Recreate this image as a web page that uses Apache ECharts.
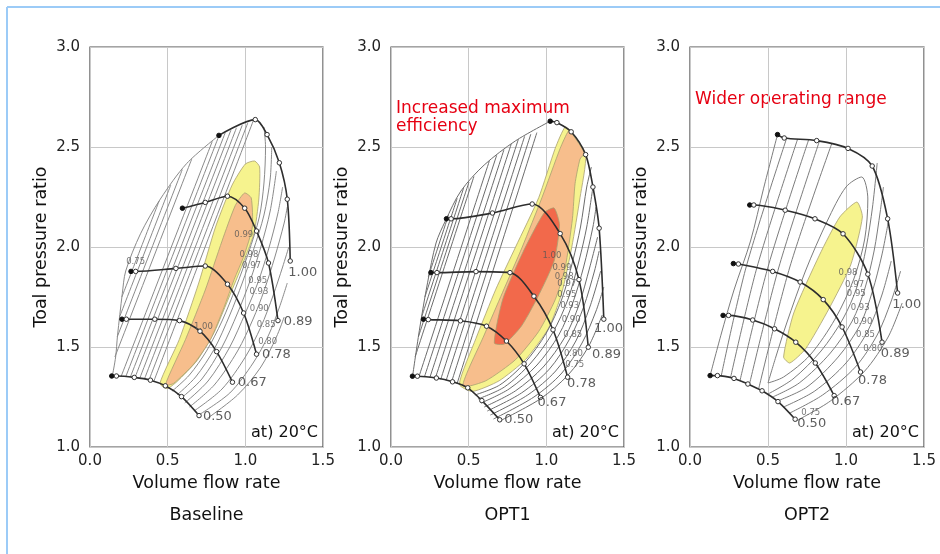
<!DOCTYPE html>
<html>
<head>
<meta charset="utf-8">
<title>Compressor maps</title>
<script src="https://cdn.jsdelivr.net/npm/echarts@6/dist/echarts.min.js"></script>
<style>
  html, body { margin: 0; padding: 0; background: #fff; }
  #chart { width: 940px; height: 554px; }
</style>
</head>
<body>
<div id="chart"></div>
<script>
// x: volume flow rate, y: total pressure ratio
const panelNames = ['Baseline', 'OPT1', 'OPT2']
const speedNames = ['0.50', '0.67', '0.78', '0.89', '1.00']

// speed lines, first point = surge point
const baseSpeed = [
  [[0.14, 1.355], [0.17, 1.355], [0.285, 1.348], [0.389, 1.334], [0.485, 1.306], [0.589, 1.252], [0.702, 1.157]],
  [[0.206, 1.639], [0.234, 1.639], [0.417, 1.639], [0.576, 1.632], [0.708, 1.579], [0.815, 1.477], [0.917, 1.324]],
  [[0.264, 1.878], [0.294, 1.878], [0.553, 1.893], [0.742, 1.905], [0.885, 1.814], [0.989, 1.67], [1.072, 1.464]],
  [[0.595, 2.194], [0.742, 2.223], [0.885, 2.254], [0.996, 2.194], [1.072, 2.08], [1.149, 1.92], [1.21, 1.632]],
  [[0.83, 2.558], [1.064, 2.637], [1.14, 2.562], [1.219, 2.421], [1.27, 2.239], [1.289, 1.93]]
]
const opt1Speed = [
  [[0.138, 1.354], [0.17, 1.354], [0.292, 1.345], [0.396, 1.326], [0.494, 1.296], [0.585, 1.232], [0.70, 1.136]],
  [[0.209, 1.639], [0.24, 1.637], [0.447, 1.631], [0.615, 1.604], [0.743, 1.53], [0.857, 1.416], [0.962, 1.248]],
  [[0.257, 1.872], [0.296, 1.872], [0.547, 1.877], [0.766, 1.872], [0.92, 1.754], [1.043, 1.586], [1.137, 1.349]],
  [[0.357, 2.141], [0.387, 2.141], [0.653, 2.17], [0.909, 2.215], [1.089, 2.067], [1.21, 1.837], [1.27, 1.499]],
  [[1.025, 2.629], [1.068, 2.622], [1.16, 2.576], [1.253, 2.462], [1.3, 2.3], [1.34, 2.094], [1.37, 1.639]]
]
const opt2Speed = [
  [[0.129, 1.357], [0.176, 1.357], [0.282, 1.343], [0.371, 1.315], [0.462, 1.281], [0.564, 1.227], [0.674, 1.139]],
  [[0.212, 1.658], [0.247, 1.658], [0.402, 1.635], [0.542, 1.591], [0.678, 1.524], [0.803, 1.42], [0.924, 1.257]],
  [[0.278, 1.917], [0.31, 1.915], [0.53, 1.878], [0.706, 1.825], [0.854, 1.737], [0.975, 1.6], [1.093, 1.375]],
  [[0.383, 2.21], [0.409, 2.21], [0.61, 2.184], [0.801, 2.141], [0.981, 2.066], [1.14, 1.864], [1.231, 1.524]],
  [[0.561, 2.562], [0.604, 2.545], [0.812, 2.532], [1.013, 2.493], [1.168, 2.405], [1.267, 2.141], [1.331, 1.77]]
]

// where the speed names sit
const baseSpeedLabelAt = [[0.82, 1.15], [1.045, 1.32], [1.2, 1.46], [1.34, 1.628], [1.37, 1.87]]
const opt1SpeedLabelAt = [[0.823, 1.136], [1.036, 1.222], [1.227, 1.319], [1.387, 1.463], [1.40, 1.59]]
const opt2SpeedLabelAt = [[0.78, 1.116], [0.998, 1.227], [1.17, 1.33], [1.316, 1.468], [1.39, 1.714]]

// high efficiency islands (outer -> inner)
const baseIslands = [
  [[0.45, 1.318], [0.575, 1.538], [0.7, 1.82], [0.808, 2.1], [0.915, 2.31], [1.0, 2.415], [1.06, 2.43], [1.092, 2.4],
   [1.087, 2.24], [1.055, 2.066], [0.97, 1.89], [0.885, 1.73], [0.8, 1.574], [0.69, 1.433], [0.56, 1.327], [0.496, 1.292]],
  [[0.485, 1.31], [0.615, 1.538], [0.742, 1.785], [0.85, 2.03], [0.935, 2.207], [0.995, 2.27], [1.038, 2.245], [1.045, 2.1],
   [0.993, 1.96], [0.928, 1.837], [0.862, 1.697], [0.776, 1.538], [0.668, 1.415], [0.538, 1.318]]
]
const opt1Islands = [
  [[0.44, 1.314], [0.547, 1.543], [0.675, 1.789], [0.802, 2.0], [0.951, 2.247], [1.057, 2.493], [1.121, 2.6], [1.16, 2.576],
   [1.253, 2.462], [1.217, 2.247], [1.164, 2.0], [1.1, 1.771], [1.015, 1.595], [0.866, 1.437], [0.696, 1.331], [0.525, 1.278]],
  [[0.462, 1.305], [0.6, 1.56], [0.717, 1.771], [0.845, 2.0], [0.972, 2.247], [1.089, 2.493], [1.142, 2.58], [1.16, 2.572],
   [1.245, 2.47], [1.217, 2.44], [1.185, 2.317], [1.168, 2.141], [1.121, 1.895], [1.057, 1.736], [0.951, 1.578], [0.802, 1.437], [0.61, 1.331]],
  [[0.665, 1.52], [0.72, 1.74], [0.85, 1.975], [0.985, 2.17], [1.05, 2.195], [1.085, 2.11], [1.05, 1.93],
   [0.945, 1.75], [0.84, 1.605], [0.73, 1.515]]
]
const opt2Islands = [
  [[0.6, 1.45], [0.665, 1.67], [0.83, 1.96], [0.96, 2.15], [1.07, 2.225], [1.105, 2.15], [1.03, 1.91],
   [0.89, 1.69], [0.74, 1.49], [0.64, 1.42]]
]

// efficiency contour lines
const baseContours = [
  [[0.145, 1.36], [0.165, 1.45], [0.177, 1.556], [0.208, 1.767], [0.23, 1.88], [0.325, 2.066], [0.453, 2.24], [0.623, 2.418], [0.83, 2.558]],
  [[0.16, 1.45], [0.655, 2.44]], [[0.175, 1.55], [0.594, 2.387]], [[0.19, 1.65], [0.52, 2.31]], [[0.205, 1.75], [0.445, 2.23]],
  [[0.2, 1.352], [0.787, 2.528]], [[0.23, 1.351], [0.83, 2.556]], [[0.26, 1.35], [0.871, 2.572]], [[0.29, 1.348], [0.907, 2.584]],
  [[0.32, 1.343], [0.943, 2.596]], [[0.35, 1.339], [0.98, 2.609]], [[0.38, 1.335], [1.016, 2.621]], [[0.41, 1.327], [1.052, 2.633]],
  [[0.53, 1.28], [0.64, 1.36], [0.75, 1.48], [0.85, 1.63], [0.94, 1.8], [1.02, 1.97], [1.09, 2.15], [1.12, 2.32], [1.13, 2.5], [1.12, 2.6]],
  [[0.56, 1.26], [0.68, 1.35], [0.8, 1.49], [0.9, 1.66], [0.98, 1.82], [1.05, 1.98], [1.12, 2.16], [1.16, 2.34], [1.17, 2.5]],
  [[0.58, 1.24], [0.72, 1.34], [0.85, 1.5], [0.95, 1.67], [1.03, 1.83], [1.1, 2.0], [1.16, 2.18], [1.2, 2.38]],
  [[0.61, 1.22], [0.76, 1.33], [0.9, 1.5], [1.0, 1.67], [1.08, 1.82], [1.15, 1.99], [1.21, 2.17], [1.24, 2.3]],
  [[0.64, 1.2], [0.8, 1.31], [0.95, 1.48], [1.05, 1.64], [1.12, 1.78], [1.19, 1.95], [1.25, 2.12], [1.27, 2.2]],
  [[0.67, 1.18], [0.85, 1.29], [1.0, 1.45], [1.1, 1.6], [1.18, 1.76], [1.24, 1.9], [1.28, 2.0]],
  [[0.7, 1.16], [0.9, 1.27], [1.05, 1.42], [1.15, 1.56], [1.22, 1.7], [1.27, 1.82]],
  [[0.75, 1.14], [0.95, 1.26], [1.1, 1.4], [1.2, 1.55], [1.25, 1.65]]
]
const opt1Contours = [
  [[0.14, 1.36], [0.185, 1.595], [0.236, 1.824], [0.29, 2.02], [0.35, 2.13], [0.45, 2.28], [0.6, 2.41], [0.8, 2.53], [1.025, 2.629]],
  [[0.155, 1.45], [0.534, 2.353]], [[0.176, 1.55], [0.502, 2.325]], [[0.197, 1.65], [0.468, 2.296]], [[0.218, 1.75], [0.426, 2.243]],
  [[0.24, 1.85], [0.37, 2.16]],
  [[0.18, 1.352], [0.633, 2.43]], [[0.215, 1.35], [0.68, 2.458]], [[0.25, 1.347], [0.727, 2.486]], [[0.285, 1.343], [0.774, 2.515]],
  [[0.32, 1.338], [0.82, 2.539]], [[0.355, 1.333], [0.86, 2.553]], [[0.39, 1.326], [0.9, 2.564]], [[0.425, 1.316], [0.939, 2.572]],
  [[0.54, 1.26], [0.7, 1.31], [0.86, 1.42], [1.0, 1.57], [1.1, 1.74], [1.17, 1.93], [1.22, 2.1], [1.26, 2.3], [1.29, 2.4]],
  [[0.56, 1.24], [0.73, 1.3], [0.9, 1.42], [1.04, 1.57], [1.14, 1.74], [1.21, 1.93], [1.26, 2.1], [1.3, 2.3]],
  [[0.58, 1.22], [0.76, 1.29], [0.94, 1.41], [1.08, 1.56], [1.17, 1.72], [1.24, 1.9], [1.3, 2.1], [1.32, 2.2]],
  [[0.6, 1.2], [0.8, 1.28], [0.98, 1.4], [1.12, 1.55], [1.21, 1.71], [1.28, 1.9], [1.33, 2.05]],
  [[0.62, 1.18], [0.84, 1.27], [1.02, 1.39], [1.15, 1.54], [1.24, 1.7], [1.31, 1.88], [1.34, 1.98]],
  [[0.64, 1.16], [0.88, 1.26], [1.06, 1.38], [1.19, 1.53], [1.28, 1.7], [1.35, 1.88]],
  [[0.66, 1.14], [0.92, 1.25], [1.1, 1.37], [1.23, 1.52], [1.32, 1.68], [1.37, 1.8]],
  [[0.7, 1.13], [0.96, 1.24], [1.14, 1.36], [1.27, 1.5], [1.36, 1.66]]
]
const opt2Contours = [
  [[0.129, 1.357], [0.197, 1.556], [0.282, 1.785], [0.388, 2.03], [0.472, 2.294], [0.561, 2.562]],
  [[0.2, 1.355], [0.36, 1.9], [0.62, 2.545]], [[0.26, 1.347], [0.43, 1.9], [0.69, 2.54]],
  [[0.32, 1.33], [0.5, 1.9], [0.76, 2.535]], [[0.38, 1.31], [0.57, 1.9], [0.83, 2.53]],
  [[0.44, 1.29], [0.64, 1.9], [0.91, 2.52]],
  [[0.5, 1.32], [0.55, 1.45], [0.62, 1.62], [0.74, 1.88], [0.88, 2.13], [1.0, 2.3], [1.1, 2.35], [1.14, 2.24],
   [1.12, 2.04], [1.05, 1.84], [0.93, 1.64], [0.77, 1.46], [0.6, 1.35], [0.5, 1.32]],
  [[0.5, 1.265], [0.66, 1.34], [0.84, 1.48], [0.98, 1.64], [1.07, 1.8], [1.13, 2.0], [1.17, 2.2], [1.2, 2.42]],
  [[0.53, 1.25], [0.7, 1.32], [0.9, 1.47], [1.04, 1.63], [1.12, 1.79], [1.18, 1.98], [1.22, 2.18], [1.24, 2.3]],
  [[0.56, 1.23], [0.75, 1.3], [0.95, 1.45], [1.09, 1.61], [1.17, 1.78], [1.23, 1.96], [1.27, 2.12]],
  [[0.6, 1.2], [0.8, 1.28], [1.0, 1.42], [1.14, 1.58], [1.23, 1.76], [1.29, 1.93]],
  [[0.64, 1.17], [0.85, 1.26], [1.06, 1.4], [1.2, 1.56], [1.29, 1.73], [1.35, 1.88]],
  [[0.68, 1.13], [0.9, 1.23], [1.12, 1.38], [1.27, 1.55], [1.36, 1.72]]
]

// contour level labels [x, y, text]
const baseContourLabels = [
  [0.294, 1.925, '0.75'], [0.99, 2.06, '0.99'], [1.023, 1.96, '0.98'], [1.04, 1.904, '0.97'], [1.08, 1.83, '0.95'],
  [1.087, 1.776, '0.93'], [1.09, 1.69, '0.90'], [1.134, 1.612, '0.85'], [1.144, 1.524, '0.80'], [0.73, 1.6, '1.00']
]
const opt1ContourLabels = [
  [1.036, 1.956, '1.00'], [1.1, 1.895, '0.99'], [1.115, 1.85, '0.98'], [1.132, 1.815, '0.97'], [1.132, 1.763, '0.95'],
  [1.15, 1.705, '0.93'], [1.16, 1.636, '0.90'], [1.17, 1.56, '0.85'], [1.174, 1.467, '0.80'], [1.183, 1.41, '0.75']
]
const opt2ContourLabels = [
  [1.013, 1.872, '0.98'], [1.055, 1.811, '0.97'], [1.066, 1.764, '0.95'], [1.091, 1.697, '0.93'],
  [1.108, 1.626, '0.90'], [1.125, 1.559, '0.85'], [1.172, 1.489, '0.80'], [0.774, 1.173, '0.75']
]

const notes = ['', 'Increased maximum\nefficiency', 'Wider operating range']

const panels = [
  { speed: baseSpeed, speedAt: baseSpeedLabelAt, islands: baseIslands, contours: baseContours, levels: baseContourLabels },
  { speed: opt1Speed, speedAt: opt1SpeedLabelAt, islands: opt1Islands, contours: opt1Contours, levels: opt1ContourLabels },
  { speed: opt2Speed, speedAt: opt2SpeedLabelAt, islands: opt2Islands, contours: opt2Contours, levels: opt2ContourLabels }
]

// ---- styling / layout ----
const FONT = 'DejaVu Sans'
const islandColors = ['#f6f38e', '#f7be8c', '#f2694b']
const contourColors = ['#8a8a8a', '#6c6c6c', '#7c7c7c']
const grids = [
  { left: 90, top: 47, width: 233, height: 400 },
  { left: 391, top: 47, width: 233, height: 400 },
  { left: 690, top: 47, width: 234, height: 400 }
]

const series = []
panels.forEach((pn, p) => {
  const axes = { xAxisIndex: p, yAxisIndex: p }
  pn.islands.forEach((poly, k) => {
    series.push({
      type: 'custom', ...axes, z: 1, silent: true, data: [0],
      renderItem: (params, api) => ({
        type: 'polygon',
        shape: { points: poly.map(pt => api.coord(pt)), smooth: 0.2 },
        style: { fill: islandColors[k], stroke: '#a8a070', lineWidth: 0.8 }
      })
    })
  })
  pn.contours.forEach(line => {
    series.push({
      type: 'line', ...axes, z: 2, silent: true, smooth: 0.3, symbol: 'none',
      data: line, lineStyle: { color: contourColors[p], width: 1 }
    })
  })
  pn.speed.forEach(line => {
    series.push({
      type: 'line', ...axes, z: 3, silent: true, smooth: 0.3,
      symbol: 'circle', symbolSize: 4.5, showSymbol: true,
      lineStyle: { color: '#2e2e2e', width: 1.6 },
      itemStyle: { color: '#fff', borderColor: '#333', borderWidth: 1 },
      data: line.map((pt, i) => i === 0 ? { value: pt, itemStyle: { color: '#111', borderColor: '#111' } } : pt)
    })
  })
  series.push({
    type: 'scatter', ...axes, z: 4, silent: true, symbolSize: 0,
    data: pn.speedAt.map((pt, i) => [pt[0], pt[1], speedNames[i]]),
    label: { show: true, position: 'inside', formatter: d => d.value[2], fontSize: 13, color: '#333', fontFamily: FONT }
  })
  series.push({
    type: 'scatter', ...axes, z: 4, silent: true, symbolSize: 0,
    data: pn.levels,
    label: { show: true, position: 'inside', fontSize: 8.5, fontFamily: FONT, formatter: d => d.value[2], color: '#555' }
  })
})

const graphic = [
  { type: 'line', shape: { x1: 7, y1: 7, x2: 940, y2: 7 }, style: { stroke: '#9ccbf7', lineWidth: 2 } },
  { type: 'line', shape: { x1: 7, y1: 7, x2: 7, y2: 554 }, style: { stroke: '#9ccbf7', lineWidth: 2 } }
]
grids.forEach((g, p) => {
  graphic.push({
    type: 'text', x: g.left + g.width / 2, y: 515,
    style: { text: panelNames[p], align: 'center', verticalAlign: 'middle', fontSize: 17.5, fontFamily: FONT, fill: '#111' }
  })
  graphic.push({
    type: 'text', x: g.left + g.width - 5, y: 433,
    style: { text: 'at) 20°C', align: 'right', verticalAlign: 'middle', fontSize: 16, fontFamily: FONT, fill: '#111' }
  })
  if (notes[p]) {
    graphic.push({
      type: 'text', x: g.left + 5, y: p === 1 ? 100 : 91,
      style: { text: notes[p], align: 'left', verticalAlign: 'top', fontSize: 17, lineHeight: 18, fontFamily: FONT, fill: '#e60012' }
    })
  }
})

const chart = echarts.init(document.getElementById('chart'))
chart.setOption({
  animation: false,
  backgroundColor: '#fff',
  grid: grids.map(g => ({ ...g, show: true, borderColor: '#4a4a4a', borderWidth: 1.2, backgroundColor: 'transparent' })),
  xAxis: grids.map((g, i) => ({
    gridIndex: i, type: 'value', min: 0, max: 1.5, interval: 0.5,
    name: 'Volume flow rate', nameLocation: 'middle', nameGap: 27,
    nameTextStyle: { fontSize: 17.5, color: '#111', fontFamily: FONT },
    axisLine: { show: false }, axisTick: { show: false },
    axisLabel: { formatter: v => v.toFixed(1), fontSize: 15, color: '#222', margin: 7, fontFamily: FONT },
    splitLine: { lineStyle: { color: '#c8c8c8', width: 1 } }
  })),
  yAxis: grids.map((g, i) => ({
    gridIndex: i, type: 'value', min: 1, max: 3, interval: 0.5,
    name: 'Toal pressure ratio', nameLocation: 'middle', nameGap: 40,
    nameTextStyle: { fontSize: 17.5, color: '#111', fontFamily: FONT },
    axisLine: { show: false }, axisTick: { show: false },
    axisLabel: { formatter: v => v.toFixed(1), fontSize: 15, color: '#222', margin: 10, fontFamily: FONT },
    splitLine: { lineStyle: { color: '#c8c8c8', width: 1 } }
  })),
  series,
  graphic
})
</script>
</body>
</html>
